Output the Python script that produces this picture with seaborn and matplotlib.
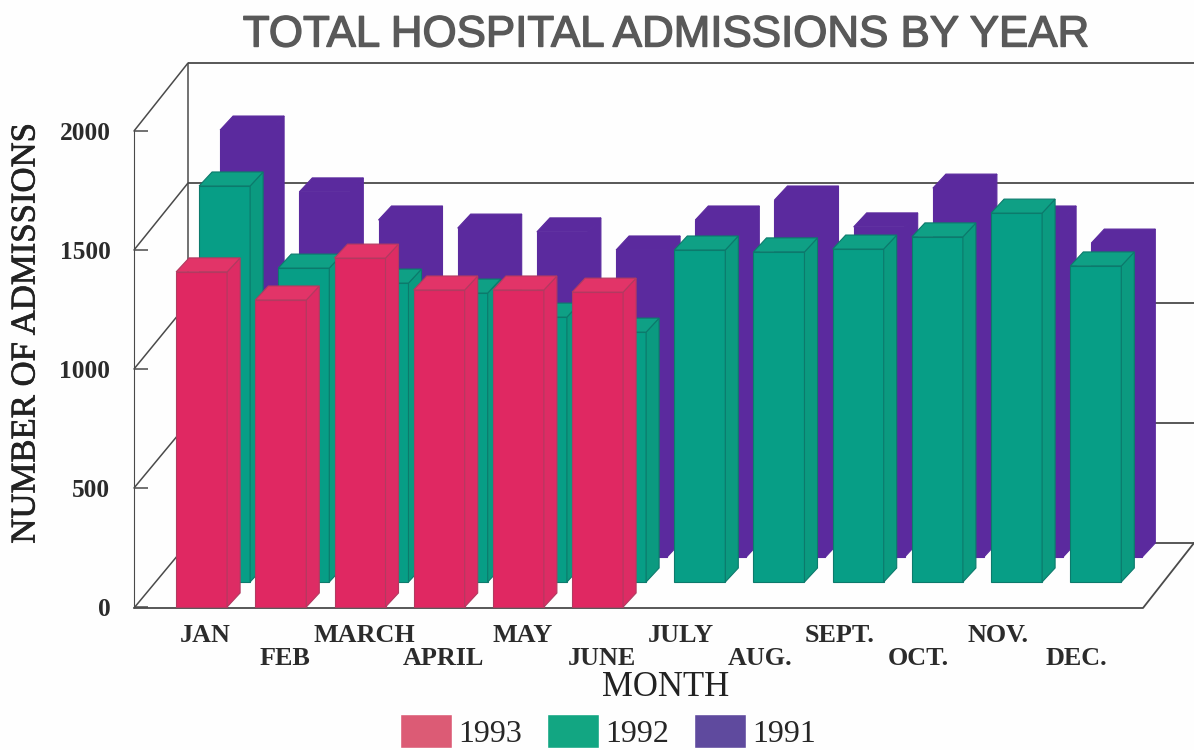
import pandas as pd
import matplotlib.pyplot as plt
import matplotlib.patheffects as pe
from matplotlib.patches import Patch, Polygon
import seaborn as sns

sns.set_style("white")
plt.rcParams['font.family'] = ['Liberation Serif', 'DejaVu Serif']

# values, front faces of the bars
months = ['JAN', 'FEB', 'MARCH', 'APRIL', 'MAY', 'JUNE',
          'JULY', 'AUG.', 'SEPT.', 'OCT.', 'NOV.', 'DEC.']
adm_1993 = [1408, 1290, 1466, 1332, 1332, 1323]
adm_1992 = [1664, 1319, 1256, 1214, 1113, 1050, 1395, 1387, 1399, 1450, 1550, 1328]
adm_1991 = [1794, 1534, 1416, 1382, 1366, 1290, 1416, 1500, 1387, 1550, 1416, 1319]
y_ticks = [0, 500, 1000, 1500, 2000]
legend_years = ['1993', '1992', '1991']

W, H = 1194, 750
PLOT_W, PLOT_H = 950.4, 476   # one set of bars, pixels
STEP = PLOT_W / 12
PX_Y = PLOT_H / 2000


def add_axes_px(left, floor):
    # floor is the pixel row of value 0, counted from the top
    ax = fig.add_axes([left / W, (H - floor) / H, PLOT_W / W, PLOT_H / H])
    ax.patch.set_visible(False)
    return ax


def draw_series(ax, labels, values, face, side, top, edge):
    df = pd.DataFrame({'month': labels, 'admissions': values})
    sns.barplot(data=df, x='month', y='admissions', order=months, color=face,
                saturation=1, width=51 / STEP, edgecolor=edge, linewidth=0.8,
                ax=ax)
    ax.set_xlim(-0.5, 11.5)
    ax.set_ylim(0, 2000)
    dx = 13 / STEP
    dy = 14 / PX_Y
    # 3D look: side and top faces taken from every bar
    for bar in list(ax.patches):
        x0, x1 = bar.get_x(), bar.get_x() + bar.get_width()
        h = bar.get_height()
        bar.set_clip_on(False)
        ax.add_patch(Polygon([(x1, 0), (x1 + dx, dy), (x1 + dx, h + dy), (x1, h)],
                             facecolor=side, edgecolor=edge, lw=0.8, clip_on=False))
        ax.add_patch(Polygon([(x0, h), (x0 + dx, h + dy), (x1 + dx, h + dy), (x1, h)],
                             facecolor=top, edgecolor=edge, lw=0.8, clip_on=False))


fig = plt.figure(figsize=(W / 100, H / 100), dpi=100, facecolor='#fefefe')

# ----- walls and floor, in pixel coordinates -----
ax_wall = fig.add_axes([0, 0, 1, 1])
ax_wall.set_xlim(0, W)
ax_wall.set_ylim(H, 0)
ax_wall.axis('off')
line_col = '#4a4a4a'
ax_wall.hlines([63, 183, 303, 423, 543], 188, W, color=line_col, lw=1.3)
ax_wall.vlines(188, 63, 543, color=line_col, lw=1.1)
for y_front, y_back in zip([131, 250, 369, 488, 608], [63, 183, 303, 423, 543]):
    ax_wall.plot([134, 188], [y_front, y_back], color=line_col, lw=1.1)
ax_wall.plot([134, 1143, W], [608, 608, 543], color=line_col, lw=1.3)

# ----- bars, back to front -----
ax_91 = add_axes_px(206, 557)
draw_series(ax_91, months, adm_1991, '#5b2a9e', '#5b2a9e', '#5b2a9e', '#5b2a9e')
ax_91.axis('off')

ax_92 = add_axes_px(185, 582)
draw_series(ax_92, months, adm_1992, '#079e86', '#0b9a80', '#0fa085', '#0c7a6c')
ax_92.axis('off')

ax_93 = add_axes_px(162, 607)
draw_series(ax_93, months[:6], adm_1993, '#e02862', '#dd2c64', '#e23468', '#b23a60')

# ----- axes text -----
sns.despine(ax=ax_93, top=True, right=True, bottom=True)
ax_93.spines['left'].set_position(('outward', 28 * 0.72))
ax_93.spines['left'].set_color(line_col)
ax_93.set_xlabel('')
ax_93.set_ylabel('')
ax_93.set_yticks(y_ticks)
ax_93.set_yticklabels([str(t) for t in y_ticks], fontsize=18.3, fontweight='bold',
                      color='#2b2b2b')
ax_93.tick_params(axis='y', left=True, direction='in', length=10, width=1.1,
                  color=line_col, pad=17)
ax_93.set_xticks([i + 0.05 for i in range(12)])
ax_93.set_xticklabels(months, fontsize=18.8, fontweight='bold', color='#2b2b2b')
ax_93.tick_params(axis='x', length=0)
for i, tick in enumerate(ax_93.xaxis.get_major_ticks()):
    tick.set_pad(12 if i % 2 == 0 else 29)

title = fig.text(666 / W, 1 - 35 / H, 'TOTAL HOSPITAL ADMISSIONS BY YEAR',
                 family='Liberation Sans', fontsize=31.6, color='#595959',
                 ha='center', va='center')
title.set_path_effects([pe.withStroke(linewidth=1.0, foreground='#595959')])
fig.text(666 / W, 1 - 688 / H, 'MONTH', fontsize=25, color='#222222',
         ha='center', va='center')
nlabel = fig.text(26 / W, 1 - 333 / H, 'NUMBER OF ADMISSIONS', fontsize=25, color='#222222',
                  rotation=90, ha='center', va='center')
nlabel.set_path_effects([pe.withStroke(linewidth=0.5, foreground='#222222')])

handles = [Patch(facecolor=c, label=y) for c, y in
           zip(['#dc5b75', '#12a682', '#5f4a9e'], legend_years)]
fig.legend(handles=handles, ncols=3, loc='lower center', bbox_to_anchor=(608 / W, 0.002),
           frameon=False, fontsize=23, handlelength=1.62, handleheight=1.25,
           handletextpad=0.2, columnspacing=0.78, borderpad=0, borderaxespad=0)

plt.savefig('out.png', dpi=100, facecolor=fig.get_facecolor())
